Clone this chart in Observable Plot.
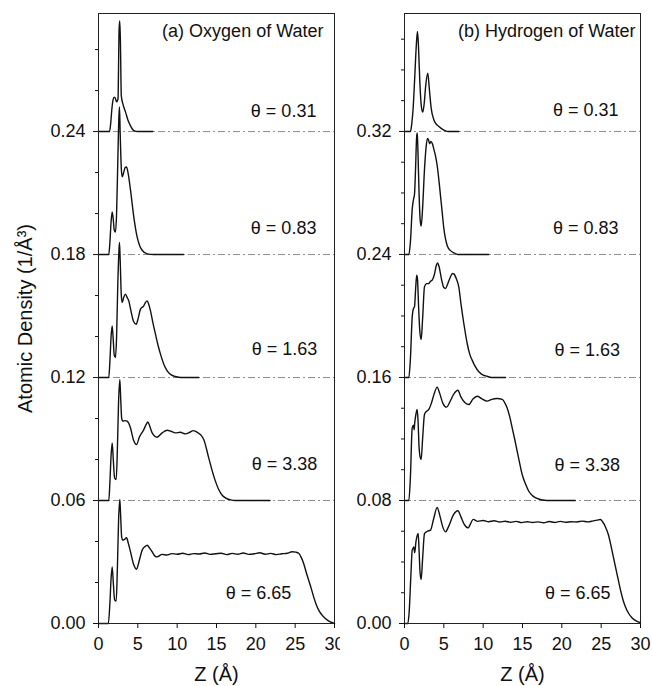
<!DOCTYPE html>
<html>
<head>
<meta charset="utf-8">
<script src="https://cdn.jsdelivr.net/npm/d3@7"></script>
<script src="https://cdn.jsdelivr.net/npm/@observablehq/plot@0.6"></script>
<style>
  body { margin: 0; background: #fff; }
  #chart { display: flex; width: 652px; height: 686px; }
  #chart svg { overflow: visible; }
</style>
</head>
<body>
<div id="chart"></div>
<script>
// ---------- data ----------
const thetas = ["0.31", "0.83", "1.63", "3.38", "6.65"];
const offsetsO = [0.24, 0.18, 0.12, 0.06, 0];
const offsetsH = [0.32, 0.24, 0.16, 0.08, 0];

const xTicks = [0, 5, 10, 15, 20, 25, 30];
const yTicksO = [0, 0.06, 0.12, 0.18, 0.24];
const yMinorO = [0.02, 0.04, 0.08, 0.10, 0.14, 0.16, 0.20, 0.22, 0.26, 0.28];
const yTicksH = [0, 0.08, 0.16, 0.24, 0.32];
const yMinorH = [0.02, 0.04, 0.06, 0.10, 0.12, 0.14, 0.18, 0.20, 0.22, 0.26, 0.28, 0.30, 0.34, 0.36, 0.38];

// Oxygen of water: [Z (Å), density above baseline (1/Å³)]
const oxy031 = [[0,0],[1.4,0],[1.55,0.004],[1.7,0.011],[1.85,0.0155],[2.0,0.0168],[2.15,0.0162],[2.3,0.0145],[2.48,0.016],[2.62,0.05],[2.7,0.054],[2.78,0.045],[2.9,0.0174],[3.1,0.0135],[3.43,0.0096],[3.75,0.0055],[4.07,0.0028],[4.5,0.0005],[5,0],[6.9,0]];
const oxy083 = [[0,0],[1.3,0],[1.45,0.006],[1.6,0.016],[1.74,0.0208],[1.88,0.017],[2.0,0.012],[2.16,0.011],[2.3,0.02],[2.45,0.045],[2.6,0.068],[2.67,0.072],[2.75,0.06],[2.9,0.042],[3.01,0.0379],[3.2,0.040],[3.4,0.0425],[3.56,0.0427],[3.75,0.040],[4.07,0.0314],[4.49,0.0183],[4.91,0.0086],[5.3,0.0037],[5.55,0.0021],[6.2,0.0003],[7,0],[10.8,0]];
const oxy163 = [[0,0],[1.31,0],[1.45,0.008],[1.6,0.02],[1.74,0.0252],[1.88,0.018],[2.0,0.011],[2.16,0.0098],[2.3,0.02],[2.45,0.045],[2.6,0.062],[2.67,0.0659],[2.75,0.058],[2.9,0.04],[3.01,0.0366],[3.2,0.039],[3.43,0.0407],[3.65,0.039],[3.85,0.0374],[4.1,0.033],[4.45,0.0275],[4.79,0.026],[5.05,0.029],[5.34,0.0334],[5.76,0.035],[6.0,0.0368],[6.19,0.0374],[6.4,0.0355],[6.61,0.0325],[6.9,0.027],[7.24,0.0212],[7.55,0.016],[7.88,0.0114],[8.3,0.0065],[8.73,0.0033],[9.3,0.0012],[9.78,0.0005],[10.5,0],[12.74,0]];
const oxy338 = [[0,0],[1.31,0],[1.45,0.009],[1.6,0.022],[1.74,0.0281],[1.88,0.02],[2.05,0.011],[2.25,0.0102],[2.4,0.025],[2.55,0.048],[2.71,0.059],[2.8,0.052],[2.95,0.04],[3.09,0.0387],[3.35,0.039],[3.64,0.0387],[4.07,0.0354],[4.45,0.0295],[4.83,0.0273],[5.2,0.031],[5.76,0.0346],[6.05,0.037],[6.27,0.0383],[6.5,0.0365],[6.82,0.033],[7.45,0.0309],[8.09,0.033],[8.73,0.0343],[9.2,0.0338],[9.78,0.033],[10.4,0.0333],[11.05,0.0325],[11.6,0.0333],[12.03,0.0341],[12.4,0.0336],[12.74,0.0328],[13.05,0.0318],[13.38,0.0298],[14.01,0.0208],[14.65,0.0119],[15.28,0.0054],[15.7,0.0027],[16.13,0.0013],[16.8,0.0003],[17.4,0],[21.8,0]];
const oxy665 = [[0,0],[1.25,0],[1.45,0.01],[1.6,0.022],[1.74,0.0276],[1.88,0.02],[2.05,0.0115],[2.25,0.0109],[2.4,0.027],[2.55,0.05],[2.71,0.0605],[2.8,0.054],[2.95,0.042],[3.09,0.0406],[3.3,0.041],[3.56,0.0418],[3.8,0.039],[4.07,0.035],[4.45,0.029],[4.83,0.0265],[5.2,0.031],[5.55,0.0358],[5.9,0.0375],[6.19,0.0382],[6.5,0.0368],[6.82,0.035],[7.15,0.033],[7.45,0.0325],[8.09,0.0337],[8.7,0.0334],[9.3,0.0341],[10,0.0338],[10.7,0.0343],[11.4,0.0336],[12.1,0.0341],[12.8,0.0339],[13.5,0.0344],[14.2,0.0337],[14.9,0.034],[15.6,0.0343],[16.3,0.0336],[17,0.0342],[17.7,0.0338],[18.4,0.0344],[19.1,0.0337],[19.8,0.034],[20.5,0.0345],[21.2,0.0338],[21.9,0.0342],[22.6,0.0336],[23.3,0.034],[24,0.0343],[24.6,0.035],[25.1,0.0348],[25.45,0.0343],[25.8,0.032],[26.08,0.0293],[26.4,0.025],[26.72,0.0211],[27.05,0.017],[27.35,0.013],[27.65,0.0095],[27.99,0.0065],[28.4,0.0042],[28.84,0.0024],[29.4,0.0009],[30,0]];

// Hydrogen of water
const hyd031 = [[0,0],[0.76,0],[0.9,0.004],[1.1,0.0152],[1.3,0.035],[1.5,0.056],[1.65,0.065],[1.78,0.055],[1.95,0.032],[2.15,0.016],[2.33,0.0126],[2.5,0.018],[2.7,0.03],[2.96,0.0379],[3.15,0.028],[3.39,0.0152],[3.73,0.0076],[4.0,0.005],[4.36,0.0033],[4.8,0.0015],[5.21,0.0004],[5.6,0],[6.9,0]];
const hyd083 = [[0,0],[0.55,0],[0.75,0.008],[0.98,0.0293],[1.15,0.036],[1.27,0.039],[1.4,0.055],[1.55,0.077],[1.63,0.079],[1.72,0.065],[1.85,0.04],[2.0,0.022],[2.12,0.0184],[2.3,0.03],[2.54,0.0553],[2.75,0.07],[2.92,0.0755],[3.05,0.0745],[3.2,0.072],[3.35,0.0735],[3.55,0.072],[3.75,0.068],[3.95,0.064],[4.15,0.058],[4.4,0.047],[4.6,0.037],[4.8,0.027],[5.0,0.017],[5.2,0.0105],[5.45,0.0055],[5.85,0.0025],[6.3,0.001],[6.8,0],[10.7,0]];
const hyd163 = [[0,0],[0.55,0],[0.75,0.012],[0.98,0.0394],[1.15,0.045],[1.27,0.0459],[1.42,0.058],[1.55,0.0665],[1.65,0.064],[1.8,0.045],[1.95,0.03],[2.12,0.0247],[2.3,0.038],[2.54,0.0589],[2.8,0.061],[3.09,0.0611],[3.3,0.0625],[3.52,0.0633],[3.8,0.067],[4.05,0.073],[4.2,0.0745],[4.4,0.072],[4.7,0.064],[5.0,0.0585],[5.21,0.0579],[5.5,0.061],[5.85,0.0655],[6.1,0.0676],[6.3,0.0672],[6.6,0.064],[6.9,0.0589],[7.2,0.047],[7.54,0.0351],[7.97,0.0221],[8.3,0.015],[8.6,0.0113],[9.0,0.007],[9.45,0.0037],[10,0.0015],[10.5,0.0008],[11,0],[12.84,0]];
const hyd338 = [[0,0],[0.55,0],[0.75,0.015],[0.98,0.0472],[1.15,0.049],[1.22,0.046],[1.3,0.0505],[1.45,0.056],[1.61,0.0592],[1.72,0.052],[1.85,0.035],[2.0,0.028],[2.12,0.0267],[2.3,0.04],[2.54,0.0559],[2.8,0.058],[3.09,0.0592],[3.4,0.063],[3.75,0.069],[4.15,0.0737],[4.45,0.07],[4.9,0.063],[5.34,0.0607],[5.8,0.0645],[6.3,0.0695],[6.78,0.0717],[7.2,0.067],[7.7,0.0635],[8.18,0.0624],[8.7,0.066],[9.24,0.0678],[9.8,0.0663],[10.5,0.0646],[11.1,0.0658],[11.78,0.0663],[12.41,0.0657],[12.8,0.063],[13.05,0.0602],[13.4,0.054],[13.69,0.0472],[14.0,0.04],[14.32,0.0321],[14.65,0.024],[14.96,0.0169],[15.4,0.0105],[15.8,0.006],[16.3,0.003],[16.86,0.0013],[17.5,0.0003],[18.1,0],[21.7,0]];
const hyd665 = [[0,0],[0.42,0],[0.6,0.008],[0.8,0.03],[0.98,0.0477],[1.1,0.049],[1.19,0.0498],[1.3,0.046],[1.45,0.053],[1.6,0.057],[1.74,0.0585],[1.85,0.048],[1.98,0.033],[2.12,0.0286],[2.3,0.042],[2.54,0.0585],[2.9,0.06],[3.3,0.0607],[3.7,0.068],[4.15,0.0754],[4.5,0.07],[4.85,0.063],[5.21,0.0596],[5.6,0.063],[6.2,0.0705],[6.78,0.0733],[7.2,0.069],[7.6,0.0645],[8.1,0.0622],[8.4,0.065],[8.73,0.0677],[9.3,0.0664],[10,0.067],[10.7,0.0662],[11.4,0.0668],[12.1,0.066],[12.8,0.0665],[13.5,0.0658],[14.2,0.0664],[14.9,0.0656],[15.6,0.0662],[16.3,0.0657],[17,0.0661],[17.7,0.0655],[18.4,0.0663],[19.1,0.0657],[19.8,0.0664],[20.5,0.0658],[21.2,0.0662],[21.9,0.066],[22.6,0.0666],[23.3,0.0661],[24,0.0667],[24.5,0.0672],[24.9,0.0676],[25.2,0.066],[25.55,0.0628],[25.9,0.058],[26.19,0.052],[26.5,0.0445],[26.82,0.0368],[27.15,0.029],[27.46,0.0217],[27.8,0.015],[28.09,0.0108],[28.5,0.0065],[28.94,0.0036],[29.5,0.0015],[30,0.0005]];

const curvesO = [oxy031, oxy083, oxy163, oxy338, oxy665];
const curvesH = [hyd031, hyd083, hyd163, hyd338, hyd665];

// label anchors (data units): right end Z, centre density
const labelZO = [27.7, 27.7, 27.8, 27.8, 24.5];
const labelYO = [0.250, 0.193, 0.1337, 0.0776, 0.0146];
const labelZH = [27.2, 27.2, 27.4, 27.4, 26.2];
const labelYH = [0.334, 0.257, 0.178, 0.103, 0.0195];

// ---------- build ----------
function table(curves, offsets) {
  const rows = [];
  curves.forEach((c, i) => c.forEach(([z, v]) => rows.push({theta: thetas[i], z, y: offsets[i] + v})));
  return rows;
}
const FONT = "'Liberation Sans', Arial, Helvetica, sans-serif";
const fmt = d3.format(".2f");

function panel({curves, offsets, yTicks, yMinor, yTop, labZ, labY, title, width, ml, mr, titleDx, yTitle}) {
  const rows = table(curves, offsets);
  const labels = thetas.map((t, i) => ({x: labZ[i], y: labY[i], text: "θ = " + t}));
  const marks = [
    Plot.ruleY(offsets.filter(d => d > 0), {stroke: "#8c8c8c", strokeWidth: 1, strokeDasharray: "7,3,2,3"}),
    Plot.line(rows, {x: "z", y: "y", z: "theta", stroke: "#111", strokeWidth: 1.4, curve: "monotone-x"}),
    Plot.frame({stroke: "#222", strokeWidth: 1}),
    Plot.axisY({ticks: yTicks, tickFormat: fmt, tickSize: 5, tickPadding: 8, label: null}),
    Plot.axisY({ticks: yMinor, tickFormat: () => "", tickSize: 3, label: null}),
    Plot.axisX({ticks: xTicks, tickSize: 5, tickPadding: 9, label: null}),
    Plot.text(labels, {x: "x", y: "y", text: "text", textAnchor: "end", lineAnchor: "middle"}),
    Plot.text([title], {text: d => d, frameAnchor: "top-right", dx: titleDx, dy: 11, textAnchor: "end", lineAnchor: "top"}),
    Plot.text(["Z (Å)"], {text: d => d, frameAnchor: "bottom", dy: 51, lineAnchor: "middle", fontSize: 20})
  ];
  if (yTitle) marks.push(Plot.text([yTitle], {text: d => d, frameAnchor: "left", dx: -73, rotate: -90, textAnchor: "middle", lineAnchor: "middle", fontSize: 20}));
  return Plot.plot({
    width, height: 686,
    marginLeft: ml, marginRight: mr, marginTop: 13, marginBottom: 63,
    x: {domain: [0, 30]},
    y: {domain: [0, yTop]},
    style: {fontFamily: FONT, fontSize: "18px", color: "#111", background: "white"},
    marks
  });
}

const chart = document.getElementById("chart");
chart.appendChild(panel({curves: curvesO, offsets: offsetsO, yTicks: yTicksO, yMinor: yMinorO, yTop: 0.2976,
  labZ: labelZO, labY: labelYO, title: "(a) Oxygen of Water", width: 340, ml: 98, mr: 6, titleDx: -11,
  yTitle: "Atomic Density (1/Å³)"}));
chart.appendChild(panel({curves: curvesH, offsets: offsetsH, yTicks: yTicksH, yMinor: yMinorH, yTop: 0.3967,
  labZ: labelZH, labY: labelYH, title: "(b) Hydrogen of Water", width: 312, ml: 64, mr: 12, titleDx: -5}));
</script>
</body>
</html>
